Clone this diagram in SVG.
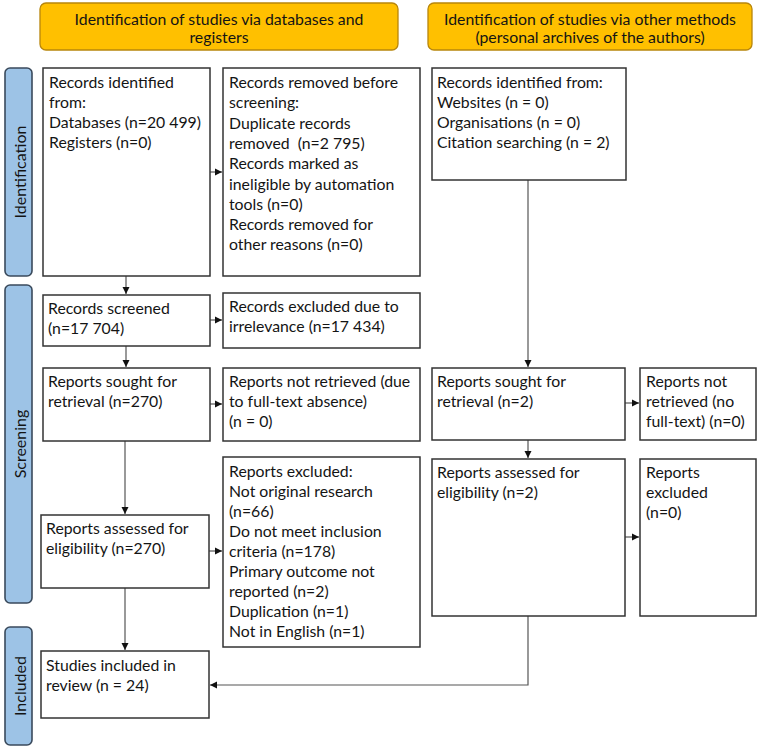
<svg xmlns="http://www.w3.org/2000/svg" width="759" height="754" viewBox="0 0 759 754">
<defs>
<style>
.bg{fill:#ffffff}
.hdr{fill:#FFC000;stroke:#B8860B;stroke-width:1.3}
.stage{fill:#9DC3E6;stroke:#3A4A5C;stroke-width:1.6}
.box{fill:#ffffff;stroke:#333;stroke-width:1.5}
text{font-family:Lato,"Open Sans","Liberation Sans",sans-serif;fill:#141414}
.t{font-size:15.8px}
.h{font-size:15.8px;text-anchor:middle}
.s{font-size:16px;text-anchor:middle}
.c{fill:none;stroke:#555;stroke-width:1.2}
</style>
<marker id="ah" markerWidth="8" markerHeight="8" refX="7" refY="4" orient="auto" markerUnits="userSpaceOnUse">
<path d="M0,0.5 L7,4 L0,7.5 Z" fill="#111"/>
</marker>
</defs>
<rect class="bg" x="0" y="0" width="759" height="754"/>

<g id="header-databases">
<rect class="hdr" x="40" y="3" width="358" height="47" rx="6"/>
<text class="h" x="219" y="25">Identification of studies via databases and</text>
<text class="h" x="219" y="43">registers</text>
</g>
<g id="header-other">
<rect class="hdr" x="428" y="3" width="324" height="47" rx="6"/>
<text class="h" x="590" y="25">Identification of studies via other methods</text>
<text class="h" x="590" y="43">(personal archives of the authors)</text>
</g>

<g id="stage-identification">
<rect class="stage" x="5" y="68" width="27" height="208" rx="5"/>
<text class="s" transform="translate(25.5,172) rotate(-90)">Identification</text>
</g>
<g id="stage-screening">
<rect class="stage" x="5" y="285" width="27" height="318" rx="5"/>
<text class="s" transform="translate(25.5,444) rotate(-90)">Screening</text>
</g>
<g id="stage-included">
<rect class="stage" x="5" y="627" width="27" height="118" rx="5"/>
<text class="s" transform="translate(25.5,686) rotate(-90)">Included</text>
</g>

<g id="connectors">
<line class="c" x1="210" y1="172" x2="222" y2="172" marker-end="url(#ah)"/>
<line class="c" x1="126" y1="276" x2="126" y2="294" marker-end="url(#ah)"/>
<line class="c" x1="210" y1="320" x2="222" y2="320" marker-end="url(#ah)"/>
<line class="c" x1="126" y1="346" x2="126" y2="367" marker-end="url(#ah)"/>
<line class="c" x1="210" y1="404" x2="222" y2="404" marker-end="url(#ah)"/>
<line class="c" x1="125" y1="441" x2="125" y2="514" marker-end="url(#ah)"/>
<line class="c" x1="209" y1="551" x2="222" y2="551" marker-end="url(#ah)"/>
<line class="c" x1="125" y1="588" x2="125" y2="650" marker-end="url(#ah)"/>
<line class="c" x1="528" y1="180" x2="528" y2="367" marker-end="url(#ah)"/>
<line class="c" x1="625" y1="403" x2="639" y2="403" marker-end="url(#ah)"/>
<line class="c" x1="528" y1="440" x2="528" y2="458" marker-end="url(#ah)"/>
<line class="c" x1="625" y1="537" x2="639" y2="537" marker-end="url(#ah)"/>
<polyline class="c" points="528,616 528,685 210,685" marker-end="url(#ah)"/>
</g>

<g id="records-identified">
<rect class="box" x="43" y="68" width="167" height="208"/>
<text class="t" x="49" y="88">Records identified</text>
<text class="t" x="49" y="108">from:</text>
<text class="t" x="49" y="128">Databases (n=20 499)</text>
<text class="t" x="49" y="148">Registers (n=0)</text>
</g>
<g id="records-removed">
<rect class="box" x="223" y="68" width="197" height="208"/>
<text class="t" x="229" y="88">Records removed before</text>
<text class="t" x="229" y="108.3">screening:</text>
<text class="t" x="229" y="128.6">Duplicate records</text>
<text class="t" x="229" y="148.9" xml:space="preserve">removed  (n=2 795)</text>
<text class="t" x="229" y="169.2">Records marked as</text>
<text class="t" x="229" y="189.5">ineligible by automation</text>
<text class="t" x="229" y="209.8">tools (n=0)</text>
<text class="t" x="229" y="230.1">Records removed for</text>
<text class="t" x="229" y="250.4">other reasons (n=0)</text>
</g>
<g id="records-other">
<rect class="box" x="432" y="68" width="194" height="112"/>
<text class="t" x="437" y="88">Records identified from:</text>
<text class="t" x="437" y="108">Websites (n = 0)</text>
<text class="t" x="437" y="128">Organisations (n = 0)</text>
<text class="t" x="437" y="148">Citation searching (n = 2)</text>
</g>
<g id="records-screened">
<rect class="box" x="43" y="295" width="167" height="51"/>
<text class="t" x="48" y="314">Records screened</text>
<text class="t" x="48" y="334">(n=17 704)</text>
</g>
<g id="records-excluded">
<rect class="box" x="223" y="293" width="197" height="55"/>
<text class="t" x="229" y="312">Records excluded due to</text>
<text class="t" x="229" y="332">irrelevance (n=17 434)</text>
</g>
<g id="reports-sought">
<rect class="box" x="43" y="368" width="167" height="73"/>
<text class="t" x="48" y="387">Reports sought for</text>
<text class="t" x="48" y="407">retrieval (n=270)</text>
</g>
<g id="reports-not-retrieved">
<rect class="box" x="223" y="368" width="197" height="73"/>
<text class="t" x="229" y="387">Reports not retrieved (due</text>
<text class="t" x="229" y="407">to full-text absence)</text>
<text class="t" x="229" y="427">(n = 0)</text>
</g>
<g id="reports-sought-other">
<rect class="box" x="432" y="368" width="193" height="72"/>
<text class="t" x="437" y="387">Reports sought for</text>
<text class="t" x="437" y="407">retrieval (n=2)</text>
</g>
<g id="reports-not-retrieved-other">
<rect class="box" x="640" y="368" width="116" height="72"/>
<text class="t" x="646" y="387">Reports not</text>
<text class="t" x="646" y="407">retrieved (no</text>
<text class="t" x="646" y="427">full-text) (n=0)</text>
</g>
<g id="reports-assessed">
<rect class="box" x="41" y="515" width="168" height="73"/>
<text class="t" x="46" y="534">Reports assessed for</text>
<text class="t" x="46" y="554">eligibility (n=270)</text>
</g>
<g id="reports-excluded">
<rect class="box" x="223" y="457" width="197" height="190"/>
<text class="t" x="229" y="477">Reports excluded:</text>
<text class="t" x="229" y="497">Not original research</text>
<text class="t" x="229" y="517">(n=66)</text>
<text class="t" x="229" y="537">Do not meet inclusion</text>
<text class="t" x="229" y="557">criteria (n=178)</text>
<text class="t" x="229" y="577">Primary outcome not</text>
<text class="t" x="229" y="597">reported (n=2)</text>
<text class="t" x="229" y="617">Duplication (n=1)</text>
<text class="t" x="229" y="637">Not in English (n=1)</text>
</g>
<g id="reports-assessed-other">
<rect class="box" x="432" y="459" width="193" height="157"/>
<text class="t" x="437" y="478">Reports assessed for</text>
<text class="t" x="437" y="498">eligibility (n=2)</text>
</g>
<g id="reports-excluded-other">
<rect class="box" x="640" y="459" width="116" height="157"/>
<text class="t" x="646" y="478">Reports</text>
<text class="t" x="646" y="498">excluded</text>
<text class="t" x="646" y="518">(n=0)</text>
</g>
<g id="studies-included">
<rect class="box" x="41" y="651" width="168" height="67"/>
<text class="t" x="46" y="671">Studies included in</text>
<text class="t" x="46" y="691">review (n = 24)</text>
</g>
</svg>
